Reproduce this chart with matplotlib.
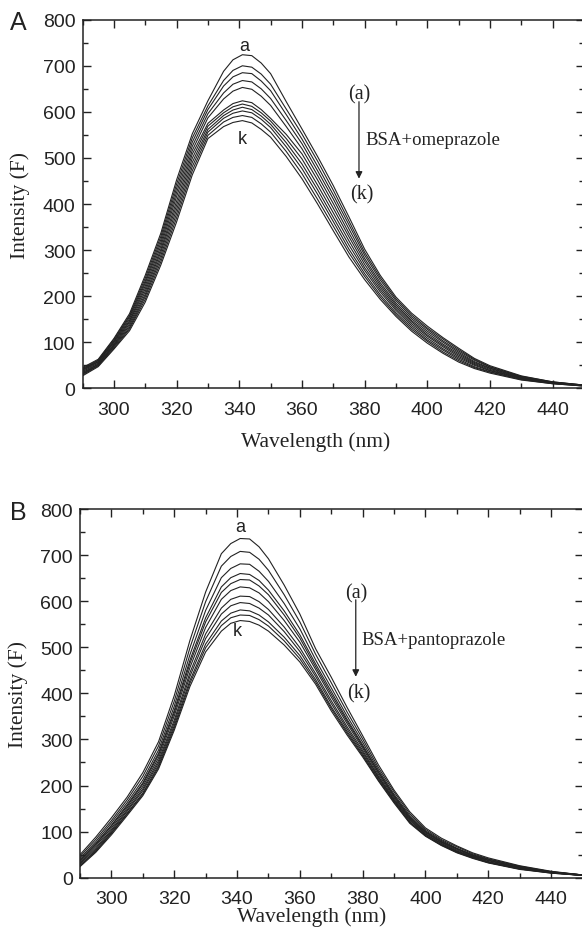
import matplotlib
matplotlib.use("Agg")
import matplotlib.pyplot as plt
from matplotlib.ticker import MultipleLocator

wavelength = [290, 295, 300, 305, 310, 315, 320, 325, 330, 335, 338, 341, 344, 347, 350,
              355, 360, 365, 370, 375, 380, 385, 390, 395, 400, 405, 410, 415, 420, 430, 440, 450]

# panel A: BSA + omeprazole, curves (a) .. (k)
omep_a = [45, 63, 108, 162, 245, 337, 452, 552, 624, 688, 713, 724, 722, 706, 683, 622, 563, 503, 440, 372, 302, 245, 198, 163, 135, 110, 87, 65, 49, 27, 14, 7]
omep_b = [43, 61, 106, 158, 239, 330, 443, 543, 613, 668, 690, 700, 697, 682, 660, 606, 552, 493, 430, 363, 295, 240, 194, 159, 131, 107, 84, 63, 47, 26, 14, 7]
omep_c = [41, 60, 103, 155, 233, 323, 434, 534, 605, 656, 676, 685, 683, 667, 646, 594, 541, 482, 420, 355, 289, 235, 190, 155, 128, 103, 81, 61, 46, 25, 13, 7]
omep_d = [40, 58, 101, 151, 228, 316, 425, 525, 596, 641, 660, 668, 665, 650, 629, 581, 531, 472, 411, 346, 282, 229, 185, 151, 124, 100, 78, 58, 44, 24, 13, 6]
omep_e = [38, 57, 99, 147, 222, 309, 416, 516, 587, 628, 645, 653, 649, 634, 614, 568, 520, 462, 401, 337, 276, 224, 181, 147, 120, 96, 75, 56, 43, 23, 12, 6]
omep_f = [36, 55, 96, 144, 216, 302, 406, 508, 575, 604, 618, 624, 620, 605, 586, 551, 509, 452, 391, 329, 269, 219, 177, 144, 116, 93, 72, 54, 41, 22, 12, 6]
omep_g = [34, 53, 94, 140, 210, 296, 397, 499, 569, 598, 611, 617, 612, 598, 580, 542, 498, 441, 381, 320, 262, 214, 173, 140, 113, 90, 69, 52, 39, 22, 12, 6]
omep_h = [32, 52, 92, 136, 204, 289, 388, 490, 562, 592, 604, 610, 605, 591, 573, 533, 487, 431, 371, 311, 256, 209, 169, 136, 109, 86, 66, 50, 38, 21, 11, 6]
omep_i = [31, 50, 90, 132, 199, 282, 379, 481, 556, 586, 597, 602, 598, 584, 566, 524, 477, 421, 362, 302, 249, 203, 164, 132, 105, 83, 63, 47, 36, 20, 11, 5]
omep_j = [29, 49, 87, 129, 193, 275, 370, 472, 549, 578, 588, 592, 588, 574, 556, 514, 466, 410, 352, 294, 243, 198, 160, 128, 102, 79, 60, 45, 35, 19, 10, 5]
omep_k = [27, 47, 85, 125, 187, 268, 361, 463, 542, 568, 577, 581, 576, 562, 545, 503, 455, 400, 342, 285, 236, 193, 156, 124, 98, 76, 57, 43, 33, 18, 10, 5]

# panel B: BSA + pantoprazole, curves (a) .. (k)
pant_a = [50, 88, 130, 175, 228, 295, 395, 515, 620, 703, 725, 736, 735, 718, 692, 635, 572, 497, 435, 370, 308, 245, 190, 143, 108, 86, 69, 54, 43, 26, 14, 6]
pant_b = [46, 83, 124, 169, 220, 286, 383, 499, 599, 676, 697, 708, 706, 691, 667, 614, 555, 485, 423, 360, 301, 239, 186, 139, 105, 83, 67, 52, 41, 25, 13, 6]
pant_c = [42, 78, 119, 163, 212, 277, 372, 484, 580, 651, 671, 681, 680, 665, 643, 595, 540, 473, 412, 351, 294, 234, 181, 135, 102, 81, 64, 50, 40, 24, 13, 6]
pant_d = [39, 74, 114, 158, 206, 270, 363, 472, 564, 631, 651, 660, 658, 645, 624, 579, 527, 464, 404, 344, 288, 230, 178, 132, 100, 79, 63, 49, 38, 23, 12, 6]
pant_e = [37, 72, 112, 155, 203, 266, 358, 465, 555, 619, 638, 647, 646, 633, 614, 570, 520, 458, 398, 340, 285, 228, 176, 130, 99, 78, 62, 48, 38, 22, 12, 6]
pant_f = [35, 69, 108, 151, 198, 260, 351, 456, 543, 604, 623, 631, 629, 618, 599, 558, 511, 452, 392, 335, 281, 224, 173, 128, 97, 77, 60, 47, 37, 21, 12, 5]
pant_g = [32, 65, 104, 147, 193, 254, 342, 445, 529, 585, 604, 611, 610, 599, 582, 544, 499, 443, 384, 328, 276, 220, 170, 126, 95, 75, 58, 46, 35, 20, 11, 5]
pant_h = [30, 62, 101, 144, 189, 249, 336, 437, 519, 572, 590, 597, 595, 585, 570, 534, 491, 437, 378, 323, 272, 218, 168, 124, 94, 74, 57, 45, 34, 20, 11, 5]
pant_i = [27, 59, 98, 140, 184, 244, 330, 428, 507, 557, 574, 581, 579, 570, 555, 522, 482, 430, 371, 318, 268, 215, 166, 121, 92, 72, 56, 44, 33, 19, 11, 5]
pant_j = [26, 57, 96, 138, 181, 240, 325, 422, 499, 547, 564, 570, 569, 560, 546, 514, 475, 425, 367, 314, 265, 212, 164, 120, 91, 71, 55, 43, 33, 19, 10, 5]
pant_k = [24, 55, 93, 135, 178, 236, 320, 415, 490, 535, 552, 558, 556, 548, 535, 505, 468, 420, 362, 310, 262, 210, 162, 118, 90, 70, 54, 42, 32, 18, 10, 5]

omep_curves = [omep_a, omep_b, omep_c, omep_d, omep_e, omep_f, omep_g, omep_h, omep_i, omep_j, omep_k]
pant_curves = [pant_a, pant_b, pant_c, pant_d, pant_e, pant_f, pant_g, pant_h, pant_i, pant_j, pant_k]

SANS = "Liberation Sans"
SERIF = "Liberation Serif"
INK = "#222222"

fig = plt.figure(figsize=(5.82, 9.37), dpi=100)
axA = fig.add_axes([0.1418, 0.5845, 0.8617, 0.3934])
axB = fig.add_axes([0.1375, 0.0622, 0.8634, 0.3935])


def style_axes(ax):
    ax.set_xlim(290, 450)
    ax.set_ylim(0, 800)
    ax.xaxis.set_major_locator(MultipleLocator(20))
    ax.xaxis.set_minor_locator(MultipleLocator(10))
    ax.yaxis.set_major_locator(MultipleLocator(100))
    ax.yaxis.set_minor_locator(MultipleLocator(50))
    ax.tick_params(which="both", direction="in", top=True, right=True,
                   color=INK, width=1.0)
    ax.tick_params(which="major", length=6)
    ax.tick_params(which="minor", length=3.5)
    ax.tick_params(axis="x", which="major", pad=9)
    ax.tick_params(axis="y", which="major", pad=5)
    for lab in ax.get_xticklabels() + ax.get_yticklabels():
        lab.set_fontfamily(SANS)
        lab.set_fontsize(14)
        lab.set_color(INK)
    for sp in ax.spines.values():
        sp.set_color(INK)
        sp.set_linewidth(1.1)
    ax.set_ylabel("Intensity (F)", fontfamily=SERIF, fontsize=15.5, color=INK)
    ax.set_xlabel("Wavelength (nm)", fontfamily=SERIF, fontsize=15.5, color=INK)
    ax.xaxis.label.set_va("center")
    ax.yaxis.label.set_va("center")


for ax, curves in [(axA, omep_curves), (axB, pant_curves)]:
    for c in curves:
        ax.plot(wavelength, c, color=INK, lw=0.8)
    style_axes(ax)

axA.yaxis.set_label_coords(-0.125, 0.5)
axA.xaxis.set_label_coords(0.465, -0.142)
axB.yaxis.set_label_coords(-0.123, 0.5)
axB.xaxis.set_label_coords(0.46, -0.103)


# curve markers and the quenching arrow
def annotate_panel(ax, a_xy, k_xy, arrow_x, arrow_top, arrow_tip, top_y, bot_y, label, label_xy):
    ax.text(a_xy[0], a_xy[1], "a", fontfamily=SANS, fontsize=13, color=INK,
            ha="center", va="center")
    ax.text(k_xy[0], k_xy[1], "k", fontfamily=SANS, fontsize=13, color=INK,
            ha="center", va="center")
    ax.text(arrow_x, top_y, "(a)", fontfamily=SERIF, fontsize=14.5, color=INK,
            ha="center", va="center")
    ax.text(arrow_x + 1, bot_y, "(k)", fontfamily=SERIF, fontsize=14.5, color=INK,
            ha="center", va="center")
    ax.annotate("", xy=(arrow_x, arrow_tip), xytext=(arrow_x, arrow_top),
                arrowprops=dict(arrowstyle="-|>", color=INK, lw=0.9,
                                mutation_scale=10, shrinkA=0, shrinkB=0))
    ax.text(label_xy[0], label_xy[1], label, fontfamily=SERIF, fontsize=13.5,
            color=INK, ha="left", va="center")


annotate_panel(axA, (341.7, 743), (341.1, 542), 378.2, 622, 455, 639, 422,
               "BSA+omeprazole", (380.3, 541))
annotate_panel(axB, (340.9, 761), (340.1, 536), 377.8, 603, 436, 619, 401,
               "BSA+pantoprazole", (379.5, 517))

fig.text(0.031, 0.9755, "A", fontfamily=SANS, fontsize=18, color=INK,
         ha="center", va="center")
fig.text(0.031, 0.4525, "B", fontfamily=SANS, fontsize=18, color=INK,
         ha="center", va="center")

fig.savefig("out.png", dpi=100)
